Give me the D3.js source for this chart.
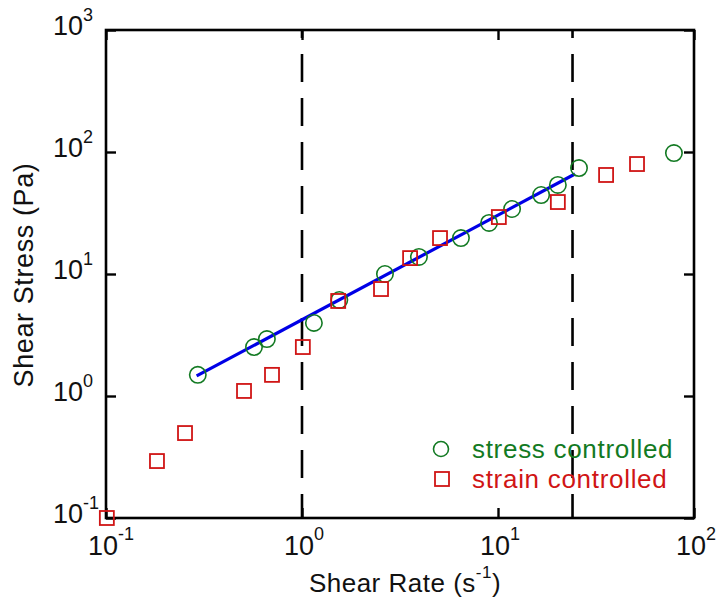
<!DOCTYPE html>
<html>
<head>
<meta charset="utf-8">
<script src="https://cdn.jsdelivr.net/npm/d3@7"></script>
<style>
  html, body { margin: 0; padding: 0; background: #fff; }
  svg { display: block; font-family: "Liberation Sans", Arial, sans-serif; }
</style>
</head>
<body>
<svg id="chart" width="718" height="601"></svg>
<script>
// ---- data ----
const stressRate   = [0.294, 0.569, 0.662, 1.15, 1.55, 2.65, 3.95, 6.47, 9.0, 11.8, 16.6, 20.2, 25.9, 79];
const stressStress = [1.49, 2.52, 2.93, 3.97, 6.12, 10.0, 13.8, 19.7, 26.2, 34.1, 44.4, 53.7, 73.9, 98];
const strainRate   = [0.101, 0.182, 0.253, 0.506, 0.703, 1.01, 1.53, 2.53, 3.56, 5.06, 10.1, 20.2, 35.6, 51.2];
const strainStress = [0.1, 0.293, 0.497, 1.10, 1.49, 2.52, 6.01, 7.53, 13.5, 19.7, 29.3, 38.9, 64.8, 79.7];
const fitRate   = [0.29, 24.7];
const fitStress = [1.46, 66];
const limitRates = [1, 24];
const xTickExp = [-1, 0, 1, 2];
const yTickExp = [-1, 0, 1, 2, 3];
const legendLabels = ["stress controlled", "strain controlled"];
const xTitle = ["Shear Rate (s", "-1", ")"];
const yTitle = "Shear Stress (Pa)";

// ---- layout ----
const L = 106, R = 694, T = 30, B = 518;
const green = "#137a23", red = "#d01515", blue = "#0000e6";
const svg = d3.select("#chart");

const x = d3.scaleLog().domain([0.1, 100]).range([L, R]);
const y = d3.scaleLog().domain([0.1, 1000]).range([B, T]);

const xTicks = xTickExp.map(e => Math.pow(10, e));
const yTicks = yTickExp.map(e => Math.pow(10, e));

// dashed limit lines
svg.selectAll("line.limit").data(limitRates).enter().append("line")
  .attr("class", "limit")
  .attr("x1", d => x(d)).attr("x2", d => x(d))
  .attr("y1", T).attr("y2", B)
  .attr("stroke", "#000").attr("stroke-width", 2.6)
  .attr("stroke-dasharray", "28,16").attr("stroke-dashoffset", 20);

// axes (inward ticks on all four sides)
function styleAxis(g) {
  g.select(".domain").remove();
  g.selectAll(".tick line").attr("stroke", "#000").attr("stroke-width", 2.4);
  g.selectAll(".tick text").remove();
}
svg.append("g").attr("transform", `translate(0,${B})`)
  .call(d3.axisBottom(x).tickValues(xTicks).tickSize(-10).tickFormat("")).call(styleAxis);
svg.append("g").attr("transform", `translate(0,${T})`)
  .call(d3.axisTop(x).tickValues(xTicks).tickSize(-10).tickFormat("")).call(styleAxis);
svg.append("g").attr("transform", `translate(${L},0)`)
  .call(d3.axisLeft(y).tickValues(yTicks).tickSize(-10).tickFormat("")).call(styleAxis);
svg.append("g").attr("transform", `translate(${R},0)`)
  .call(d3.axisRight(y).tickValues(yTicks).tickSize(-10).tickFormat("")).call(styleAxis);

// frame
svg.append("rect").attr("x", L).attr("y", T).attr("width", R - L).attr("height", B - T)
  .attr("fill", "none").attr("stroke", "#000").attr("stroke-width", 2.6);

// tick labels
const xl = svg.append("g").attr("fill", "#111");
xTickExp.forEach(e => {
  const cx = x(Math.pow(10, e)) - 3;
  xl.append("text").attr("x", cx).attr("y", 555).attr("text-anchor", "middle")
    .attr("font-size", 27).text("10");
  xl.append("text").attr("x", cx + 15).attr("y", 540).attr("text-anchor", "start")
    .attr("font-size", 18).text(String(e));
});
const yl = svg.append("g").attr("fill", "#111");
yTickExp.forEach(e => {
  const cy = y(Math.pow(10, e));
  yl.append("text").attr("x", 83).attr("y", cy + 5).attr("text-anchor", "end")
    .attr("font-size", 27).text("10");
  yl.append("text").attr("x", 83).attr("y", cy - 9).attr("text-anchor", "start")
    .attr("font-size", 18).text(String(e));
});

// axis titles
const xt = svg.append("text").attr("x", 405).attr("y", 592).attr("text-anchor", "middle")
  .attr("font-size", 26).attr("letter-spacing", 0.5).attr("fill", "#111");
xt.append("tspan").text(xTitle[0]);
xt.append("tspan").attr("dy", -14).attr("font-size", 17).text(xTitle[1]);
xt.append("tspan").attr("dy", 14).text(xTitle[2]);

svg.append("text").attr("transform", "translate(33,275) rotate(-90)")
  .attr("text-anchor", "middle").attr("font-size", 27).attr("letter-spacing", 0.6)
  .attr("fill", "#111").text(yTitle);

// fit line
svg.append("path")
  .datum(fitRate.map((r, i) => [r, fitStress[i]]))
  .attr("d", d3.line().x(d => x(d[0])).y(d => y(d[1])))
  .attr("fill", "none").attr("stroke", blue).attr("stroke-width", 3.2);

// stress-controlled circles
svg.selectAll("circle.stress").data(stressRate.map((r, i) => [r, stressStress[i]])).enter()
  .append("circle").attr("class", "stress")
  .attr("cx", d => x(d[0])).attr("cy", d => y(d[1])).attr("r", 8.2)
  .attr("fill", "none").attr("stroke", green).attr("stroke-width", 1.6);

// strain-controlled squares
const s = 14;
svg.selectAll("rect.strain").data(strainRate.map((r, i) => [r, strainStress[i]])).enter()
  .append("rect").attr("class", "strain")
  .attr("x", d => x(d[0]) - s / 2).attr("y", d => y(d[1]) - s / 2)
  .attr("width", s).attr("height", s)
  .attr("fill", "none").attr("stroke", red).attr("stroke-width", 1.8);

// legend
svg.append("circle").attr("cx", 441).attr("cy", 449).attr("r", 7.5)
  .attr("fill", "none").attr("stroke", green).attr("stroke-width", 1.6);
svg.append("rect").attr("x", 435).attr("y", 472).attr("width", 14).attr("height", 14)
  .attr("fill", "none").attr("stroke", red).attr("stroke-width", 1.8);
svg.append("text").attr("x", 472).attr("y", 458).attr("font-size", 26).attr("letter-spacing", 0.7)
  .attr("fill", green).text(legendLabels[0]);
svg.append("text").attr("x", 472).attr("y", 488).attr("font-size", 26).attr("letter-spacing", 0.7)
  .attr("fill", red).text(legendLabels[1]);
</script>
</body>
</html>
